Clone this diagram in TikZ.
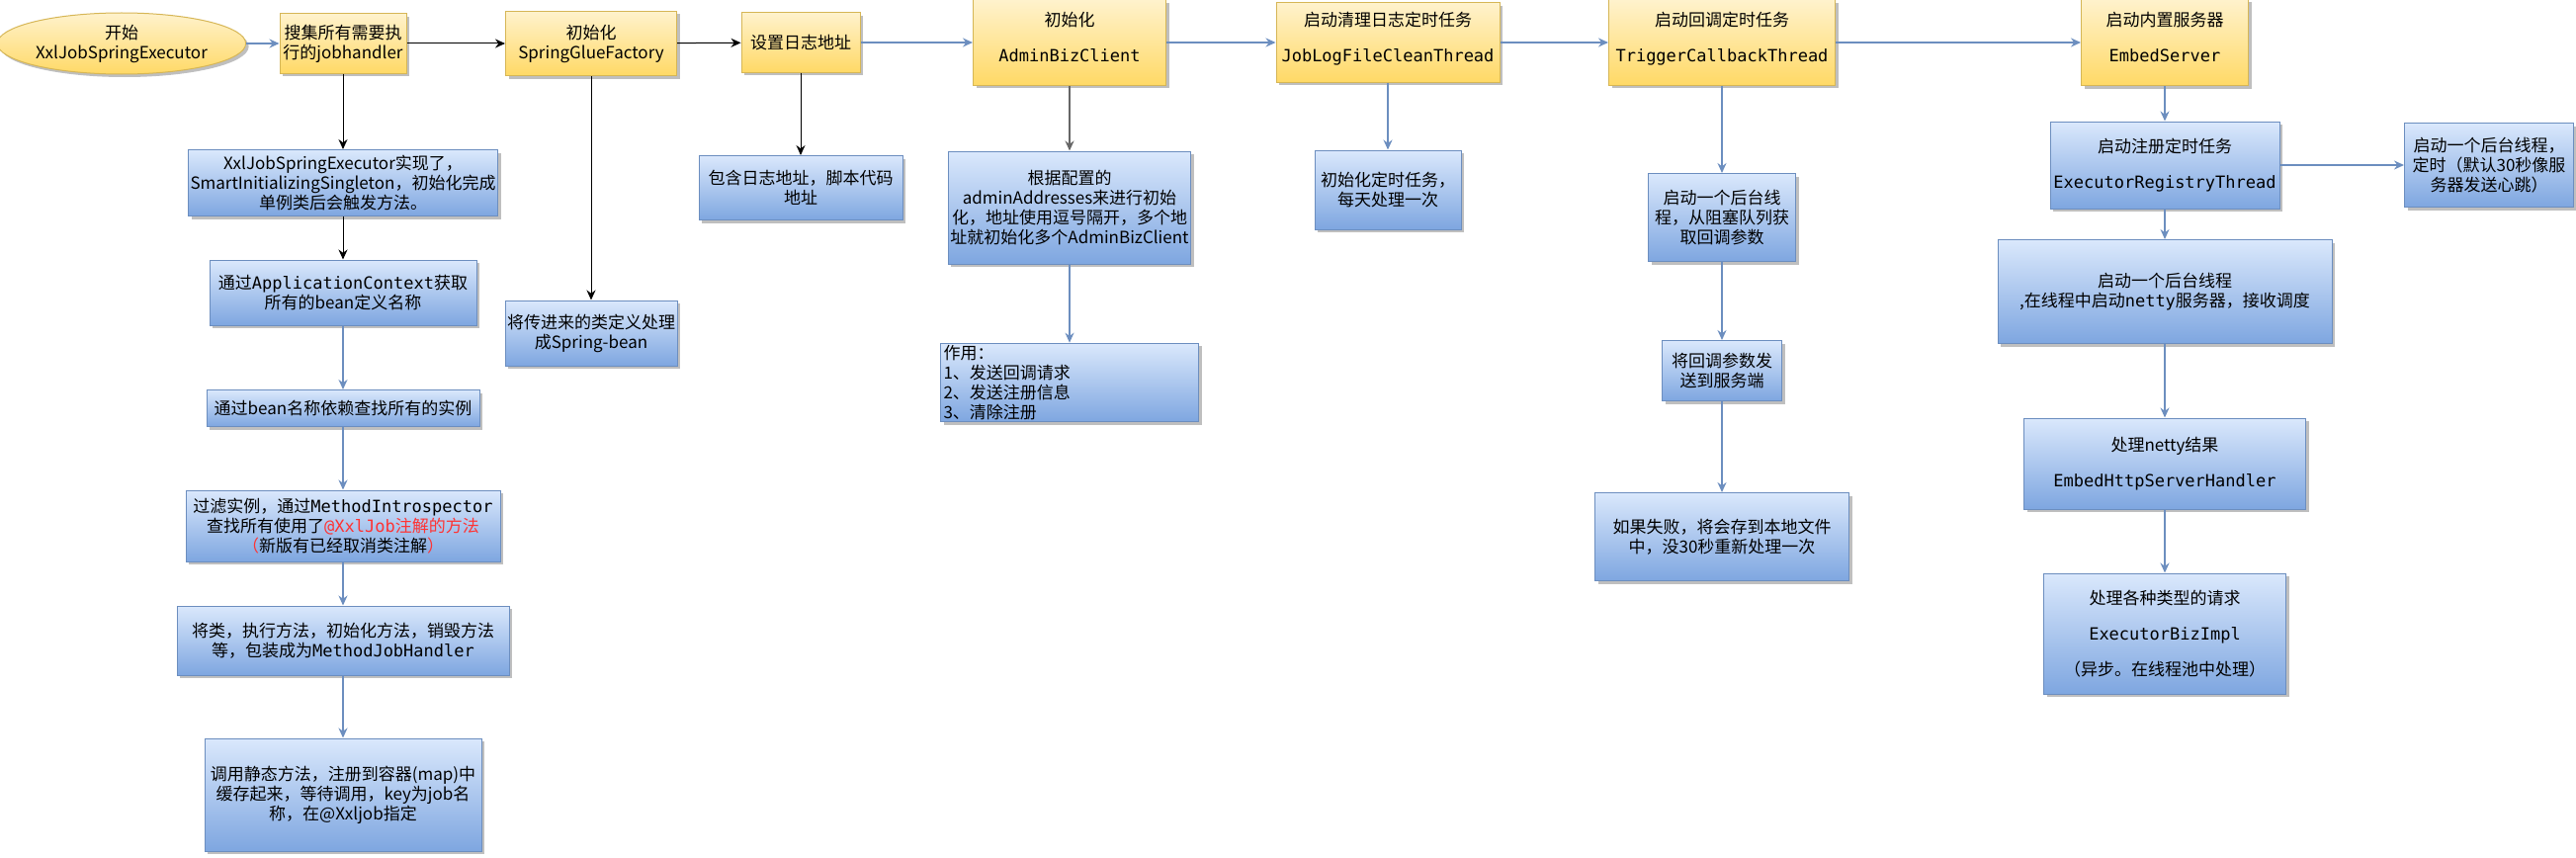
\documentclass[tikz,border=0pt]{standalone}
\usepackage{fontspec}
\setmainfont{Noto Sans CJK SC}
\setmonofont{DejaVu Sans Mono}
\usepackage{tikz}
\usetikzlibrary{arrows.meta,shapes.geometric,shadows}
\definecolor{yellowtop}{HTML}{FFF2CC}
\definecolor{yellowbottom}{HTML}{FFD966}
\definecolor{yellowline}{HTML}{D6B656}
\definecolor{bluetop}{HTML}{DAE8FC}
\definecolor{bluebottom}{HTML}{7EA6E0}
\definecolor{blueline}{HTML}{6C8EBF}
\definecolor{notered}{HTML}{FF3333}

\begin{document}
\begin{tikzpicture}[x=1pt,y=-1pt,>={Stealth[length=10pt,width=9pt]},
  every node/.style={align=center,font=\fontsize{17}{20}\selectfont,inner sep=2pt},
  boxshadow/.style={drop shadow={shadow xshift=3pt,shadow yshift=-3pt,fill=black!25,opacity=1}},
  yellowbox/.style={draw=yellowline,line width=1pt,top color=yellowtop,bottom color=yellowbottom,boxshadow},
  bluebox/.style={draw=blueline,line width=1pt,top color=bluetop,bottom color=bluebottom,boxshadow},
  flow/.style={->,line width=1pt},
  blueflow/.style={->,line width=1.2pt,draw=blueline},
  grayflow/.style={->,line width=1.2pt,draw=black!60}]
  \useasboundingbox (0,0) rectangle (2606,867);
  % top row
  \node[yellowbox,ellipse,minimum width=246pt,minimum height=62pt] (start) at (123,44) {开始\\XxlJobSpringExecutor};
  \node[yellowbox,minimum width=128pt,minimum height=60pt] (collect) at (347,44) {搜集所有需要执\\行的jobhandler};
  \node[yellowbox,minimum width=173pt,minimum height=65pt] (glue) at (598,44) {初始化\\SpringGlueFactory};
  \node[yellowbox,minimum width=120pt,minimum height=60pt] (logpath) at (810,43) {设置日志地址};
  \node[yellowbox,minimum width=195pt,minimum height=86pt,text depth=12pt] (admin) at (1082,43) {初始化\\[16pt]\texttt{AdminBizClient}};
  \node[yellowbox,minimum width=226pt,minimum height=80pt,text depth=12pt] (clean) at (1404,43) {启动清理日志定时任务\\[16pt]\texttt{JobLogFileCleanThread}};
  \node[yellowbox,minimum width=229pt,minimum height=86pt,text depth=12pt] (callback) at (1742,43) {启动回调定时任务\\[16pt]\texttt{TriggerCallbackThread}};
  \node[yellowbox,minimum width=169pt,minimum height=87pt,text depth=12pt] (embed) at (2190,43) {启动内置服务器\\[16pt]\texttt{EmbedServer}};
  \draw[blueflow] (start) -- (collect);
  \draw[flow] (collect) -- (glue);
  \draw[flow] (glue) -- (logpath);
  \draw[blueflow] (logpath) -- (admin);
  \draw[blueflow] (admin) -- (clean);
  \draw[blueflow] (clean) -- (callback);
  \draw[blueflow] (callback) -- (embed);
  % jobhandler column
  \node[bluebox,minimum width=303pt,minimum height=67pt] (smart) at (347,185) {XxlJobSpringExecutor实现了，\\SmartInitializingSingleton，初始化完成\\单例类后会触发方法。};
  \node[bluebox,minimum width=270pt,minimum height=66pt] (context) at (347,296) {通过\texttt{ApplicationContext}获取\\所有的bean定义名称};
  \node[bluebox,minimum width=276pt,minimum height=37pt] (lookup) at (347,413) {通过bean名称依赖查找所有的实例};
  \node[bluebox,minimum width=318pt,minimum height=72pt] (filter) at (347,532) {过滤实例，通过\texttt{MethodIntrospector}\\查找所有使用了\textcolor{notered}{\texttt{@XxlJob}注解的方法}\\\textcolor{notered}{（}新版有已经取消类注解\textcolor{notered}{）}};
  \node[bluebox,minimum width=336pt,minimum height=70pt] (wrap) at (347,648) {将类，执行方法，初始化方法，销毁方法\\等，包装成为\texttt{MethodJobHandler}};
  \node[bluebox,minimum width=280pt,minimum height=114pt] (register) at (347,804) {调用静态方法，注册到容器(map)中\\缓存起来，等待调用，key为job名\\称，在@Xxljob指定};
  \draw[flow] (collect) -- (smart);
  \draw[flow] (smart) -- (context);
  \draw[blueflow] (context) -- (lookup);
  \draw[blueflow] (lookup) -- (filter);
  \draw[blueflow] (filter) -- (wrap);
  \draw[blueflow] (wrap) -- (register);
  % glue factory and log path
  \node[bluebox,minimum width=173pt,minimum height=66pt] (springbean) at (598,337) {将传进来的类定义处理\\成Spring-bean};
  \node[bluebox,minimum width=206pt,minimum height=65pt] (logdesc) at (810,190) {包含日志地址，脚本代码\\地址};
  \draw[flow] (glue) -- (springbean);
  \draw[flow] (logpath) -- (logdesc);
  % admin client
  \node[bluebox,minimum width=244pt,minimum height=114pt] (adminaddr) at (1082,210) {根据配置的\\adminAddresses来进行初始\\化，地址使用逗号隔开，多个地\\址就初始化多个AdminBizClient};
  \node[bluebox,minimum width=261pt,minimum height=79pt,text width=255pt,align=left] (usage) at (1082,387) {作用：\\1、发送回调请求\\2、发送注册信息\\3、清除注册};
  \draw[grayflow] (admin) -- (adminaddr);
  \draw[blueflow] (adminaddr) -- (usage);
  % log clean
  \node[bluebox,minimum width=148pt,minimum height=80pt] (cleaninit) at (1404,192) {初始化定时任务，\\每天处理一次};
  \draw[blueflow] (clean) -- (cleaninit);
  % callback
  \node[bluebox,minimum width=149pt,minimum height=89pt] (cbthread) at (1742,220) {启动一个后台线\\程，从阻塞队列获\\取回调参数};
  \node[bluebox,minimum width=121pt,minimum height=61pt] (cbsend) at (1742,375) {将回调参数发\\送到服务端};
  \node[bluebox,minimum width=257pt,minimum height=89pt] (cbfail) at (1742,543) {如果失败，将会存到本地文件\\中，没30秒重新处理一次};
  \draw[blueflow] (callback) -- (cbthread);
  \draw[blueflow] (cbthread) -- (cbsend);
  \draw[blueflow] (cbsend) -- (cbfail);
  % embed server
  \node[bluebox,minimum width=232pt,minimum height=88pt] (registry) at (2190,167) {启动注册定时任务\\[16pt]\texttt{ExecutorRegistryThread}};
  \node[bluebox,minimum width=171pt,minimum height=85pt] (heartbeat) at (2518,167) {启动一个后台线程，\\定时（默认30秒像服\\务器发送心跳）};
  \node[bluebox,minimum width=338pt,minimum height=105pt] (netty) at (2190,295) {启动一个后台线程\\,在线程中启动\texttt{netty}服务器，接收调度};
  \node[bluebox,minimum width=285pt,minimum height=92pt] (handler) at (2190,469) {处理netty结果\\[16pt]\texttt{EmbedHttpServerHandler}};
  \node[bluebox,minimum width=245pt,minimum height=122pt] (bizimpl) at (2190,641) {处理各种类型的请求\\[16pt]\texttt{ExecutorBizImpl}\\[16pt]（异步。在线程池中处理）};
  \draw[blueflow] (embed) -- (registry);
  \draw[blueflow] (registry) -- (heartbeat);
  \draw[blueflow] (registry) -- (netty);
  \draw[blueflow] (netty) -- (handler);
  \draw[blueflow] (handler) -- (bizimpl);
\end{tikzpicture}
\end{document}
